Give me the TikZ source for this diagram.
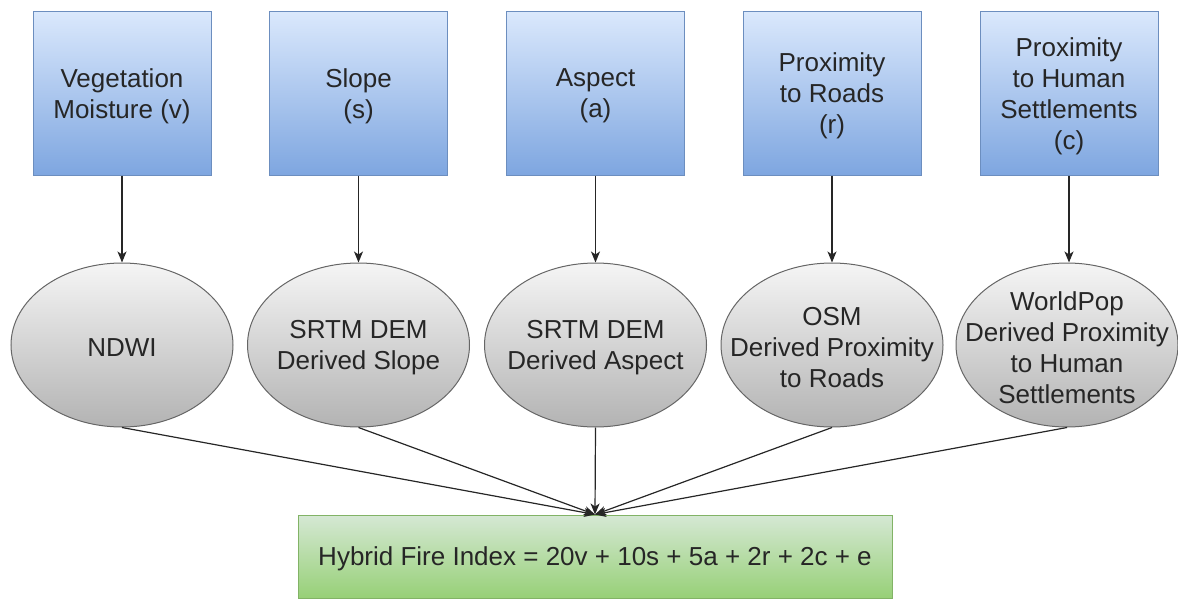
\documentclass[tikz,border=0pt]{standalone}
\usepackage{fontspec}
\setmainfont{Liberation Sans}
\usetikzlibrary{shapes.geometric,arrows.meta}

\definecolor{blueTop}{HTML}{DAE8FC}
\definecolor{blueBot}{HTML}{7EA6E0}
\definecolor{blueLine}{HTML}{6C8EBF}
\definecolor{grayTop}{HTML}{F5F5F5}
\definecolor{grayBot}{HTML}{B3B3B3}
\definecolor{grayLine}{HTML}{666666}
\definecolor{greenTop}{HTML}{D5E8D4}
\definecolor{greenBot}{HTML}{97D077}
\definecolor{greenLine}{HTML}{82B366}
\definecolor{txt}{HTML}{262626}

\begin{document}
\begin{tikzpicture}[x=1pt,y=-1pt,
  labelfont/.style={font=\fontsize{26}{31}\selectfont, text=txt, align=center},
  boxtext/.style={labelfont, inner sep=0pt, yshift=-2.5pt},
  factorbox/.style={rectangle, draw=blueLine, line width=1pt,
    top color=blueTop, bottom color=blueBot,
    minimum width=178pt, minimum height=163pt, inner sep=0pt},
  sourceoval/.style={ellipse, draw=grayLine, line width=1pt,
    top color=grayTop, bottom color=grayBot,
    minimum width=222pt, minimum height=164pt, inner sep=0pt},
  resultbox/.style={rectangle, draw=greenLine, line width=1pt,
    top color=greenTop, bottom color=greenBot,
    minimum width=594pt, minimum height=83pt, inner sep=0pt},
  conn/.style={draw=black!85, line width=1.2pt,
    -{Stealth[length=11pt, width=9pt, inset=3pt]}}
]
\useasboundingbox (0,0) rectangle (1178,599);

% input factors
\node[factorbox] (b1) at (122,93.5)   {};
\node[factorbox] (b2) at (358.5,93.5) {};
\node[factorbox] (b3) at (595.5,93.5) {};
\node[factorbox] (b4) at (832,93.5)   {};
\node[factorbox] (b5) at (1069,93.5)  {};
\node[boxtext] (bt1) at (b1.center) {Vegetation\\Moisture (v)};
\node[boxtext] (bt2) at (b2.center) {Slope\\(s)};
\node[boxtext] (bt3) at (b3.center) {Aspect\\(a)};
\node[boxtext] (bt4) at (b4.center) {Proximity\\to Roads\\(r)};
\node[boxtext] (bt5) at (b5.center) {Proximity\\to Human\\Settlements\\(c)};

% data sources
\node[sourceoval] (e1) at (122,345)   {};
\node[sourceoval] (e2) at (358.5,345) {};
\node[sourceoval] (e3) at (595.5,345) {};
\node[sourceoval] (e4) at (832,345)   {};
\node[sourceoval] (e5) at (1067,345)  {};
\node[boxtext] (t1) at (e1.center) {NDWI};
\node[boxtext] (t2) at (e2.center) {SRTM DEM\\Derived Slope};
\node[boxtext] (t3) at (e3.center) {SRTM DEM\\Derived Aspect};
\node[boxtext] (t4) at (e4.center) {OSM\\Derived Proximity\\to Roads};
\node[boxtext] (t5) at (e5.center) {WorldPop\\Derived Proximity\\to Human\\Settlements};

% combined index
\node[resultbox] (hfi) at (595,556.5) {};
\node[boxtext] (hfit) at (hfi.center) {Hybrid Fire Index = 20v + 10s + 5a + 2r + 2c + e};

% connectors
\draw[conn] (b1.south) -- (e1.north);
\draw[conn] (b2.south) -- (e2.north);
\draw[conn] (b3.south) -- (e3.north);
\draw[conn] (b4.south) -- (e4.north);
\draw[conn] (b5.south) -- (e5.north -| b5.south);
\draw[conn] (e1.south) -- (hfi.north);
\draw[conn] (e2.south) -- (hfi.north);
\draw[conn] (e3.south) -- (hfi.north);
\draw[conn] (e4.south) -- (hfi.north);
\draw[conn] (e5.south) -- (hfi.north);
\end{tikzpicture}
\end{document}
